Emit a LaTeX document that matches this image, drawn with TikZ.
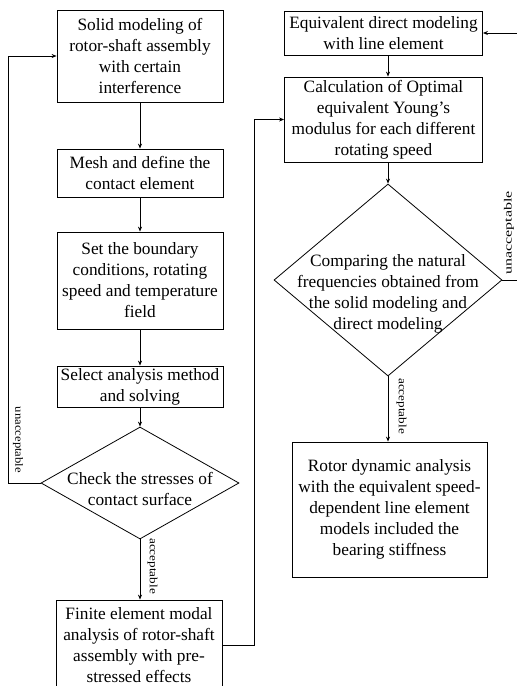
\documentclass[tikz,border=0pt]{standalone}
\usepackage{fontspec}
\setmainfont{Liberation Serif}
\usetikzlibrary{shapes.geometric,arrows.meta,calc}
\begin{document}
\begin{tikzpicture}[x=1pt,y=-1pt,
  box/.style={draw,line width=0.8pt,inner sep=0pt,align=center,
    font=\fontsize{17.3}{21}\selectfont},
  dia/.style={draw,diamond,line width=0.8pt,inner sep=0pt},
  dtext/.style={align=center,inner sep=0pt,font=\fontsize{17.3}{21}\selectfont},
  arr/.style={line width=0.8pt,-{Stealth[length=5pt,width=4pt]}},
  ln/.style={line width=0.8pt},
  lbl/.style={inner sep=0pt,font=\fontsize{11}{13}\selectfont}]
\clip (0,0) rectangle (517,686);
\fill[white] (0,0) rectangle (517,686);
% left column
\node[box,minimum width=166,minimum height=92] (B1) at (140,56)
  {Solid modeling of\\rotor-shaft assembly\\with certain\\interference};
\node[box,minimum width=166,minimum height=48] (B2) at (140,173)
  {Mesh and define the\\contact element};
\node[box,minimum width=166,minimum height=97] (B3) at (140,280.5)
  {Set the boundary\\conditions, rotating\\speed and temperature\\field};
\node[box,minimum width=166,minimum height=41] (B4) at (140,386.5)
  {Select analysis method\\and solving};
\node[dia,minimum width=198,minimum height=112] (D1) at (140,483) {};
\node[dtext] (T1) at (140,489) {Check the stresses of\\contact surface};
\node[box,minimum width=166,minimum height=90] (B5) at (139,645)
  {Finite element modal\\analysis of rotor-shaft\\assembly with pre-\\stressed effects};
% right column
\node[box,minimum width=198,minimum height=44] (B6) at (383.5,33)
  {Equivalent direct modeling\\with line element};
\node[box,minimum width=198,minimum height=85] (B7) at (383.5,119.5)
  {Calculation of Optimal\\equivalent Young’s\\modulus for each different\\rotating speed};
\node[dia,minimum width=228,minimum height=192] (D2) at (388,280) {};
\node[dtext] (T2) at (388,294) {Comparing the natural\\frequencies obtained from\\the solid modeling and\\direct modeling};
\node[box,minimum width=195,minimum height=135] (B8) at (389.5,509.5)
  {Rotor dynamic analysis\\with the equivalent speed-\\dependent line element\\models included the\\bearing stiffness};
% helper coordinates
\coordinate (L) at (8,0);
\coordinate (M) at (254,0);
\coordinate (R) at (518,0);
% connectors left
\draw[arr] (B1.south) -- (B2.north);
\draw[arr] (B2.south) -- (B3.north);
\draw[arr] (B3.south) -- (B4.north);
\draw[arr] (B4.south) -- (D1.north);
\draw[arr] (D1.south) -- (B5.north -| D1.south);
\draw[arr] (D1.west) -- (D1.west -| L) |- (B1.west);
\draw[arr] (B5.east) -- (B5.east -| M) |- (B7.west);
% connectors right
\draw[arr] (B6.south -| D2.north) -- (B7.north -| D2.north);
\draw[arr] (B7.south -| D2.north) -- (D2.north);
\draw[arr] (D2.south) -- (B8.north -| D2.south);
\draw[arr] (D2.east) -- (D2.east -| R) |- (B6.east);
% labels
\node[lbl,rotate=-90] (U1) at (18,440) {\scalebox{1.15}[1]{unacceptable}};
\node[lbl,rotate=-90] (A1) at (152.5,566) {\scalebox{1.2}[1]{acceptable}};
\node[lbl,rotate=90] (U2) at (509,233) {\scalebox{1.45}[1]{unacceptable}};
\node[lbl,rotate=-90] (A2) at (401.5,406) {\scalebox{1.2}[1]{acceptable}};
\end{tikzpicture}
\end{document}
